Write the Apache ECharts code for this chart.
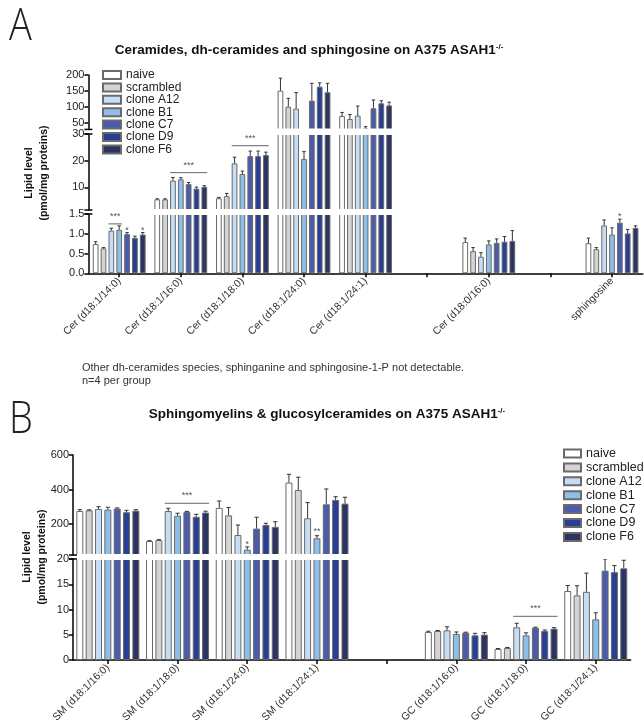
<!DOCTYPE html>
<html><head><meta charset="utf-8">
<script src="https://cdn.jsdelivr.net/npm/echarts@6/dist/echarts.min.js"></script>
<style>html,body{margin:0;padding:0;background:#fff}#c{width:644px;height:727px}</style>
</head><body><div id="c"></div><script>
const seriesNames = ['naive','scrambled','clone A12','clone B1','clone C7','clone D9','clone F6'];
const colors = ['#ffffff','#d4d4d4','#c6ddf3','#8ebfe9','#4b5cad','#283f96','#2c3463'];

// ---------- Panel A ----------
const categoriesA = ['Cer (d18:1/14:0)','Cer (d18:1/16:0)','Cer (d18:1/18:0)','Cer (d18:1/24:0)','Cer (d18:1/24:1)','','Cer (d18:0/16:0)',' ','sphingosine'];
const naiveA     = [0.74, 5.5, 5.9, 151, 72, null, 0.79, null, 0.76];
const scrambledA = [0.63, 5.5, 6.7, 101, 62.5, null, 0.56, null, 0.61];
const a12A       = [1.08, 12.5, 19.0, 95, 73, null, 0.42, null, 1.21];
const b1A        = [1.10, 13.0, 15.0, 20.6, 33.4, null, 0.73, null, 0.98];
const c7A        = [0.99, 11.2, 21.7, 120, 96, null, 0.77, null, 1.28];
const d9A        = [0.90, 9.5, 21.7, 163.5, 111.5, null, 0.80, null, 1.01];
const f6A        = [0.98, 10.2, 22.1, 146, 105, null, 0.82, null, 1.15];
const naiveErrA     = [0.06, 0.2, 0.3, 39, 11, null, 0.10, null, 0.13];
const scrambledErrA = [0.02, 0.2, 1.0, 26, 14, null, 0.09, null, 0.04];
const a12ErrA       = [0.06, 1.2, 2.3, 50, 30, null, 0.10, null, 0.14];
const b1ErrA        = [0.10, 0.6, 1.1, 2.8, 5, null, 0.09, null, 0.17];
const c7ErrA        = [0.04, 0.6, 1.9, 54, 26, null, 0.10, null, 0.09];
const d9ErrA        = [0.04, 0.6, 1.9, 12, 8, null, 0.13, null, 0.10];
const f6ErrA        = [0.05, 0.4, 1.1, 28, 10, null, 0.26, null, 0.05];
// [category, value, fromSeries, toSeries, text, hasLine]
const sigA = [[0, 1.25, 2, 3, '***', 1], [0, 1.13, 4, 4, '*', 0], [0, 1.13, 6, 6, '*', 0],
              [1, 15.5, 2, 6, '***', 1], [2, 25.6, 2, 6, '***', 1], [8, 1.49, 4, 4, '*', 0]];
const ticksTopA = [50, 100, 150, 200];
const ticksMidA = [10, 20, 30];
const ticksBotA = [0, 0.5, 1.0, 1.5];

// ---------- Panel B ----------
const categoriesB = ['SM (d18:1/16:0)','SM (d18:1/18:0)','SM (d18:1/24:0)','SM (d18:1/24:1)','','GC (d18:1/16:0)','GC (d18:1/18:0)','GC (d18:1/24:1)'];
const naiveB     = [275, 101, 293, 440, null, 5.54, 2.18, 13.66];
const scrambledB = [279, 107, 250, 397, null, 5.74, 2.38, 12.8];
const a12B       = [287, 275, 136, 233, null, 5.87, 6.47, 13.5];
const b1B        = [283, 248, 51, 117, null, 5.15, 4.88, 8.05];
const c7B        = [289, 270, 173, 314, null, 5.41, 6.4, 17.7];
const d9B        = [268, 242, 194, 339, null, 4.88, 5.74, 17.4];
const f6B        = [277, 266, 183, 318, null, 5.02, 6.2, 18.15];
const naiveErrB     = [8, 2, 40, 48, null, 0.15, 0.1, 1.1];
const scrambledErrB = [3, 2, 45, 74, null, 0.1, 0.1, 1.9];
const a12ErrB       = [13, 16, 58, 91, null, 0.7, 0.8, 3.7];
const b1ErrB        = [14, 14, 16, 15, null, 0.4, 0.5, 1.3];
const c7ErrB        = [4, 3, 66, 89, null, 0.1, 0.1, 2.3];
const d9ErrB        = [11, 14, 10, 19, null, 0.4, 0.2, 1.3];
const f6ErrB        = [6, 8, 30, 37, null, 0.4, 0.2, 1.6];
const sigB = [[1, 320, 2, 6, '***', 1], [2, 90, 3, 3, '*', 0], [3, 169, 3, 3, '**', 0], [6, 8.65, 2, 6, '***', 1]];
const ticksTopB = [200, 400, 600];
const ticksBotB = [0, 5, 10, 15, 20];

const FONT = 'Liberation Sans, Arial, sans-serif';
const option = {animation: false, grid: [], xAxis: [], yAxis: [], series: [], legend: [], graphic: []};

function makeErrRender(p, seg) {
  return function (params, api) {
    const c = api.value(0), top = api.value(1), s = api.value(2), v = api.value(3);
    const bw = api.size([1, 0])[0];
    const w = bw * p.barPct, g = w * p.barGap;
    const total = 7 * w + 6 * g;
    const p0 = api.coord([c, Math.max(v, seg.min)]), p1 = api.coord([c, Math.min(top, seg.max)]);
    const x = p0[0] - total / 2 + s * (w + g) + w / 2;
    const cap = Math.max(1.5, w * 0.3);
    const st = {stroke: '#333', lineWidth: 1};
    const ch = [{type: 'line', shape: {x1: x, y1: p0[1], x2: x, y2: p1[1]}, style: st}];
    if (top <= seg.max) ch.push({type: 'line', shape: {x1: x - cap, y1: p1[1], x2: x + cap, y2: p1[1]}, style: st});
    return {type: 'group', children: ch};
  };
}
function makeSigRender(p) {
  return function (params, api) {
    const d = p.sig[params.dataIndex];
    const bw = api.size([1, 0])[0];
    const w = bw * p.barPct, g = w * p.barGap;
    const total = 7 * w + 6 * g;
    const pt = api.coord([d[0], d[1]]);
    const xs = pt[0] - total / 2 + d[2] * (w + g);
    const xe = pt[0] - total / 2 + d[3] * (w + g) + w;
    const children = [];
    if (d[5]) {
      children.push({type: 'line', shape: {x1: xs, y1: pt[1], x2: xe, y2: pt[1]}, style: {stroke: '#666', lineWidth: 1}});
    }
    children.push({type: 'text', x: (xs + xe) / 2, y: d[5] ? pt[1] - 3 : pt[1] + 2,
      style: {text: d[4], fontSize: 9, fontFamily: FONT, fill: '#555', align: 'center', verticalAlign: d[5] ? 'bottom' : 'middle'}});
    return {type: 'group', children};
  };
}
function makeBreakRender(isTop, isBottom) {
  return function (params) {
    const cs = params.coordSys;
    const ch = [];
    const st = {stroke: '#000', lineWidth: 1.5};
    if (!isTop) ch.push({type: 'line', shape: {x1: cs.x - 4, y1: cs.y, x2: cs.x + 4, y2: cs.y}, style: st});
    if (!isBottom) ch.push({type: 'line', shape: {x1: cs.x - 4, y1: cs.y + cs.height, x2: cs.x + 4, y2: cs.y + cs.height}, style: st});
    return {type: 'group', children: ch};
  };
}
// white strip hiding the clipped bar borders at a break
function makeStripRender(isTop, isBottom) {
  return function (params) {
    const cs = params.coordSys;
    const ch = [];
    const st = {fill: '#fff'};
    if (!isTop) ch.push({type: 'rect', shape: {x: cs.x + 1, y: cs.y - 1, width: cs.width, height: 2}, style: st});
    if (!isBottom) ch.push({type: 'rect', shape: {x: cs.x + 1, y: cs.y + cs.height - 1, width: cs.width, height: 2}, style: st});
    return {type: 'group', children: ch};
  };
}

function addPanel(p) {
  const n = p.segs.length;
  const gridOfSeg = [];
  p.segs.forEach((seg, k) => {
    const gi = option.grid.length;
    gridOfSeg.push(gi);
    const isTop = k === 0, isBottom = k === n - 1;
    option.grid.push({left: p.left, width: p.width, top: seg.top, height: seg.height});
    option.xAxis.push({type: 'category', gridIndex: gi, data: p.cats, show: isBottom, boundaryGap: true,
      axisLine: {show: true, lineStyle: {color: '#000', width: 1.5}},
      axisTick: {show: true, alignWithLabel: true, interval: 0, length: 4, lineStyle: {color: '#000', width: 1.5}},
      axisLabel: {interval: 0, rotate: 45, fontSize: 10.5, color: '#333', margin: 6, fontFamily: FONT},
      splitLine: {show: false}});
    option.yAxis.push({type: 'value', gridIndex: gi, min: seg.min, max: seg.max,
      axisLine: {show: true, lineStyle: {color: '#000', width: 1.5}},
      axisTick: {show: true, length: 4, customValues: seg.ticks, lineStyle: {color: '#000', width: 1.5}},
      axisLabel: {customValues: seg.ticks, fontSize: 11, color: '#222', margin: 4, fontFamily: FONT, formatter: seg.fmt},
      splitLine: {show: false}});
    p.values.forEach((vals, s) => {
      option.series.push({type: 'bar', name: seriesNames[s], xAxisIndex: gi, yAxisIndex: gi, data: vals,
        barWidth: (p.barPct * 100) + '%', barGap: (p.barGap * 100) + '%', clip: true, z: 2,
        itemStyle: {color: colors[s], borderColor: '#6a6a6a', borderWidth: 1}, emphasis: {disabled: true}});
    });
    option.series.push({type: 'custom', xAxisIndex: gi, yAxisIndex: gi, clip: false, silent: true, z: 3,
      data: [[0, seg.min]], encode: {x: 0, y: 1}, renderItem: makeStripRender(isTop, isBottom)});
    const errData = [];
    p.values.forEach((vals, s) => vals.forEach((v, c) => {
      if (v == null) return;
      const top = v + p.errors[s][c];
      if (top > seg.min && v < seg.max) errData.push([c, top, s, v]);
    }));
    option.series.push({type: 'custom', xAxisIndex: gi, yAxisIndex: gi, clip: true, silent: true, z: 4,
      data: errData, encode: {x: 0, y: 1}, renderItem: makeErrRender(p, seg)});
    option.series.push({type: 'custom', xAxisIndex: gi, yAxisIndex: gi, clip: false, silent: true, z: 5,
      data: [[0, seg.min]], encode: {x: 0, y: 1}, renderItem: makeBreakRender(isTop, isBottom)});
  });
  // significance: grouped into the segment holding the value
  p.segs.forEach((seg, k) => {
    const idx = [];
    p.sig.forEach((d, i) => {
      let kk = p.segs.findIndex(sg => d[1] >= sg.min && d[1] <= sg.max);
      if (kk < 0) kk = n - 1;
      if (kk === k) idx.push(i);
    });
    if (!idx.length) return;
    const sub = {sig: idx.map(i => p.sig[i]), barPct: p.barPct, barGap: p.barGap};
    option.series.push({type: 'custom', xAxisIndex: gridOfSeg[k], yAxisIndex: gridOfSeg[k], clip: false, silent: true, z: 6,
      data: sub.sig.map(d => [d[0], d[1]]), encode: {x: 0, y: 1}, renderItem: makeSigRender(sub)});
  });
}

addPanel({
  cats: categoriesA, left: 88.4, width: 554.4, barPct: 0.093, barGap: 0.37,
  values: [naiveA, scrambledA, a12A, b1A, c7A, d9A, f6A],
  errors: [naiveErrA, scrambledErrA, a12ErrA, b1ErrA, c7ErrA, d9ErrA, f6ErrA],
  sig: sigA,
  segs: [
    {min: 30, max: 200, top: 75, height: 54.4, ticks: ticksTopA, fmt: v => String(v)},
    {min: 1.5, max: 30, top: 134, height: 76, ticks: ticksMidA, fmt: v => String(v)},
    {min: 0, max: 1.5, top: 214, height: 59.3, ticks: ticksBotA, fmt: v => Number(v).toFixed(1)}
  ]
});
addPanel({
  cats: categoriesB, left: 73, width: 557.6, barPct: 0.10, barGap: 0.34,
  values: [naiveB, scrambledB, a12B, b1B, c7B, d9B, f6B],
  errors: [naiveErrB, scrambledErrB, a12ErrB, b1ErrB, c7ErrB, d9ErrB, f6ErrB],
  sig: sigB,
  segs: [
    {min: 20, max: 600, top: 455, height: 100, ticks: ticksTopB, fmt: v => String(v)},
    {min: 0, max: 20, top: 559, height: 101, ticks: ticksBotB, fmt: v => String(v)}
  ]
});

option.legend = [
  {orient: 'vertical', left: 102, top: 69, padding: 0, itemWidth: 18, itemHeight: 8, itemGap: 0.4, icon: 'rect',
   selectedMode: false, data: seriesNames, textStyle: {fontSize: 12, lineHeight: 12, color: '#222', fontFamily: FONT}},
  {orient: 'vertical', left: 563, top: 447, padding: 0, itemWidth: 17, itemHeight: 8, itemGap: 0.9, icon: 'rect',
   selectedMode: false, data: seriesNames, textStyle: {fontSize: 12.5, lineHeight: 12, color: '#222', fontFamily: FONT}}
];

const supRich = {s: {fontSize: 8, fontWeight: 'bold', fontFamily: FONT, verticalAlign: 'top', lineHeight: 15, fill: '#111'}};
option.graphic = [
  {type: 'text', x: 9, y: 6, scaleY: 1.15, style: {text: 'A', fontSize: 38, fontWeight: 300, fontFamily: 'Open Sans', fill: '#222', verticalAlign: 'top'}},
  {type: 'text', x: 309, y: 50, style: {text: 'Ceramides, dh-ceramides and sphingosine on A375 ASAH1{s|-/-}', rich: supRich,
    fontSize: 13.5, fontWeight: 'bold', fontFamily: FONT, fill: '#111', align: 'center', verticalAlign: 'middle', lineHeight: 15}},
  {type: 'text', x: 37, y: 173, rotation: Math.PI / 2, style: {text: 'Lipid level\n(pmol/mg proteins)', fontSize: 10.5,
    fontWeight: 'bold', fontFamily: FONT, fill: '#111', align: 'center', verticalAlign: 'middle', lineHeight: 15}},
  {type: 'text', left: 82, top: 361, style: {text: 'Other dh-ceramides species, sphinganine and sphingosine-1-P not detectable.\nn=4 per group',
    fontSize: 11, lineHeight: 13, fontFamily: FONT, fill: '#333'}},
  {type: 'text', x: 9, y: 399, scaleY: 1.15, style: {text: 'B', fontSize: 38, fontWeight: 300, fontFamily: 'Open Sans', fill: '#222', verticalAlign: 'top'}},
  {type: 'text', x: 327, y: 414, style: {text: 'Sphingomyelins & glucosylceramides on A375 ASAH1{s|-/-}', rich: supRich,
    fontSize: 13.5, fontWeight: 'bold', fontFamily: FONT, fill: '#111', align: 'center', verticalAlign: 'middle', lineHeight: 15}},
  {type: 'text', x: 35, y: 557, rotation: Math.PI / 2, style: {text: 'Lipid level\n(pmol/mg proteins)', fontSize: 10.5,
    fontWeight: 'bold', fontFamily: FONT, fill: '#111', align: 'center', verticalAlign: 'middle', lineHeight: 15}}
];

const chart = echarts.init(document.getElementById('c'), null, {renderer: 'canvas'});
chart.setOption(option);
</script></body></html>
